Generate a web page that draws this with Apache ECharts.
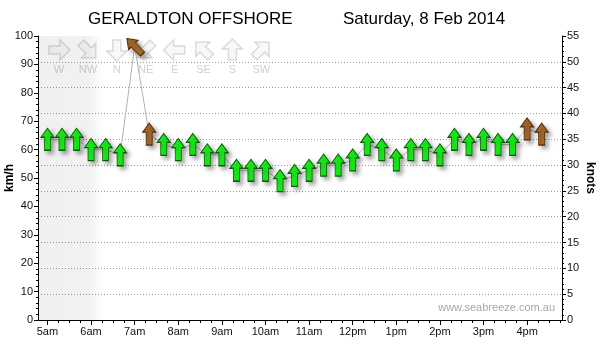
<!DOCTYPE html>
<html>
<head>
<meta charset="utf-8">
<script src="https://cdn.jsdelivr.net/npm/echarts@6/dist/echarts.min.js"></script>
<style>html,body{margin:0;padding:0;background:#fff}#c{width:600px;height:359px}</style>
</head>
<body>
<div id="c"></div>
<script>
// ---- data ----
var times = ['05:00','05:20','05:40','06:00','06:20','06:40','07:00','07:20','07:40','08:00','08:20','08:40',
             '09:00','09:20','09:40','10:00','10:20','10:40','11:00','11:20','11:40','12:00','12:20','12:40',
             '13:00','13:20','13:40','14:00','14:20','14:40','15:00','15:20','15:40','16:00','16:20'];
var knots = [35,35,35,33,33,32,53,36,34,33,34,32,32,29,29,29,27,28,29,30,30,31,34,33,31,33,33,32,35,34,35,34,34,37,36];
var windFrom = ['S','S','S','S','S','S','SE','S','S','S','S','S','S','S','S','S','S','S','S','S','S','S','S','S',
                'S','S','S','S','S','S','S','S','S','S','S'];
var arrowKind = ['g','g','g','g','g','g','b','b','g','g','g','g','g','g','g','g','g','g','g','g','g','g','g','g',
                 'g','g','g','g','g','g','g','g','g','b','b'];
var hourTicks = [5,6,7,8,9,10,11,12,13,14,15,16];
var hourLabels = ['5am','6am','7am','8am','9am','10am','11am','12pm','1pm','2pm','3pm','4pm'];
var compassNames = ['W','NW','N','NE','E','SE','S','SW'];
var title1 = 'GERALDTON OFFSHORE';
var title2 = 'Saturday, 8 Feb 2014';

// ---- helpers ----
var dirDeg = {N:0,NE:45,E:90,SE:135,S:180,SW:225,W:270,NW:315};
function toMin(s){var p=s.split(':');return (+p[0])*60+(+p[1]);}
function rot(d){return -((dirDeg[d]+180)%360);}
var FONT = 'Liberation Sans';
var ARROW = 'path://M6.5,0 L13,9 L9.5,9 L9.5,22 L3.5,22 L3.5,9 L0,9 Z';
var styles = {
  g:{color:'#19f019', borderColor:'#0a5a0a'},
  b:{color:'#a8682a', borderColor:'#4e2c08'}
};
var xMin = 287, xMax = 1008;
var lineData = times.map(function(t,i){return [toMin(t), knots[i]];});
var arrowData = times.map(function(t,i){
  var st = styles[arrowKind[i]];
  return {value:[toMin(t), knots[i]], symbolRotate: rot(windFrom[i]),
          itemStyle:{color:st.color, borderColor:st.borderColor}};
});
var majorTicks = hourTicks.map(function(h){return h*60;});
var minorTicks = [];
for (var m = hourTicks[0]*60 - 15; m <= xMax; m += 15) { if (m >= xMin && m % 60 !== 0) minorTicks.push(m); }

// compass legend graphics
var legendX0 = 59, legendDx = 28.9;
var graphics = [];
compassNames.forEach(function(n,i){
  var cx = legendX0 + i*legendDx;
  graphics.push({type:'polygon', x:cx, y:50, rotation: rot(n)*Math.PI/180, z:1, silent:true,
    shape:{points:[[0,-11],[10,-1],[4,-1],[4,10],[-4,10],[-4,-1],[-10,-1]]},
    style:{fill:'#f8f8f8', stroke:'#dadada', lineWidth:1.5}});
  graphics.push({type:'text', x:cx, y:70, z:1, silent:true,
    style:{text:n, fill:'#d0d0d0', font:'11px '+FONT, textAlign:'center', textVerticalAlign:'middle'}});
});
graphics.push({type:'text', right:45, top:302, silent:true,
  style:{text:'www.seabreeze.com.au', fill:'#a8a8a8', font:'11px '+FONT}});

var chart = echarts.init(document.getElementById('c'), null, {renderer:'canvas'});
chart.setOption({
  animation:false,
  backgroundColor:'#fff',
  title:[
    {text:title1, left:83, top:6, textStyle:{fontFamily:FONT, fontSize:17, fontWeight:'normal', color:'#000'}},
    {text:title2, left:338, top:6, textStyle:{fontFamily:FONT, fontSize:17, fontWeight:'normal', color:'#000'}}
  ],
  grid:{left:38, right:38, top:36, bottom:39, containLabel:false, outerBoundsMode:'none'},
  graphic:graphics,
  xAxis:[
    {type:'value', min:xMin, max:xMax, position:'bottom',
     axisLine:{lineStyle:{color:'#000', width:1}},
     axisTick:{customValues:majorTicks, length:5, lineStyle:{color:'#000'}},
     axisLabel:{customValues:majorTicks, margin:6, color:'#111', fontFamily:FONT, fontSize:11,
       formatter:function(v){var i=majorTicks.indexOf(v);return i>=0?hourLabels[i]:'';}},
     splitLine:{show:false}},
    {type:'value', min:xMin, max:xMax, position:'bottom',
     axisLine:{show:false},
     axisTick:{customValues:minorTicks, length:3, lineStyle:{color:'#000'}},
     axisLabel:{show:false}, splitLine:{show:false}}
  ],
  yAxis:[
    {type:'value', min:0, max:100, interval:10, position:'left',
     name:'km/h', nameLocation:'middle', nameGap:22, nameMoveOverlap:false,
     nameTextStyle:{fontFamily:FONT, fontSize:12, fontWeight:'bold', color:'#000'},
     axisLine:{show:true, lineStyle:{color:'#000'}},
     axisTick:{show:true, length:4, lineStyle:{color:'#000'}},
     minorTick:{show:true, splitNumber:5, length:2, lineStyle:{color:'#000'}},
     axisLabel:{margin:5, color:'#111', fontFamily:FONT, fontSize:11},
     splitLine:{show:false}},
    {type:'value', min:0, max:55, interval:5, position:'right',
     name:'knots', nameLocation:'middle', nameGap:22, nameRotate:-90, nameMoveOverlap:false,
     nameTextStyle:{fontFamily:FONT, fontSize:12, fontWeight:'bold', color:'#000'},
     axisLine:{show:true, lineStyle:{color:'#000'}},
     axisTick:{show:true, length:4, lineStyle:{color:'#000'}},
     minorTick:{show:true, splitNumber:5, length:2, lineStyle:{color:'#000'}},
     axisLabel:{margin:5, color:'#111', fontFamily:FONT, fontSize:11},
     splitLine:{show:true, showMinLine:false, showMaxLine:false,
       lineStyle:{color:'#9a9a9a', width:1, type:[1,2]}}}
  ],
  series:[
    {type:'line', xAxisIndex:0, yAxisIndex:1, data:lineData, symbol:'none', z:2,
     lineStyle:{color:'#b4b4b4', width:1}, silent:true,
     markArea:{silent:true, itemStyle:{color:{type:'linear', x:0, y:0, x2:1, y2:0,
        colorStops:[{offset:0,color:'rgba(0,0,0,0.06)'},{offset:0.76,color:'rgba(0,0,0,0.055)'},{offset:1,color:'rgba(0,0,0,0)'}]}},
       data:[[{xAxis:xMin},{xAxis:377}]]}},
    {type:'scatter', xAxisIndex:0, yAxisIndex:1, data:arrowData, symbol:ARROW, symbolSize:[13,22], z:3,
     itemStyle:{borderWidth:1, opacity:1, shadowBlur:4, shadowColor:'rgba(0,0,0,0.35)', shadowOffsetX:3, shadowOffsetY:3}}
  ]
});
</script>
</body>
</html>
